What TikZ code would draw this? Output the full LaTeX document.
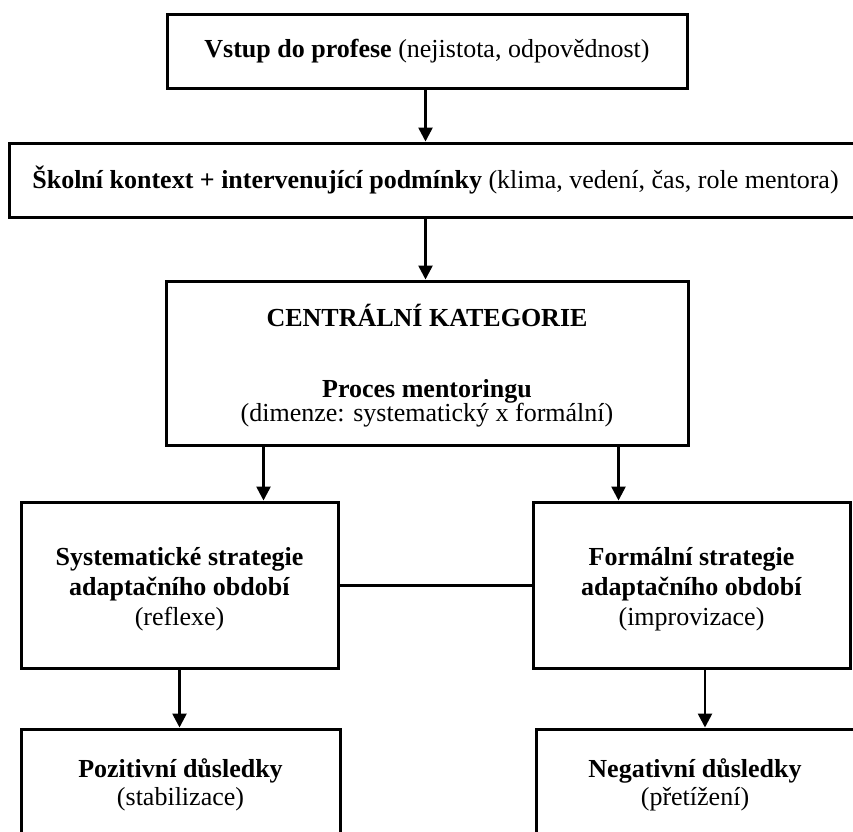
\documentclass[tikz,border=0pt]{standalone}
\usepackage{fontspec}
\setmainfont{Liberation Serif}
\usetikzlibrary{arrows.meta}
\begin{document}
\begin{tikzpicture}[x=1pt,y=-1pt,
  box/.style={draw, line width=3pt, align=center, inner sep=0pt,
    font=\fontsize{26}{29.5}\selectfont},
  arr/.style={line width=2.6pt, -{Triangle[length=14pt,width=14pt]}},
  link/.style={line width=3pt}]
\useasboundingbox (0,0) rectangle (853,831);
\node[box, minimum width=520pt, minimum height=74pt] (entry) at (427,51)
  {\textbf{Vstup do profese} (nejistota, odpovědnost)};
\node[box, minimum width=853pt, minimum height=74pt] (context) at (435.5,180)
  {\textbf{Školní kontext + intervenující podmínky} (klima, vedení, čas, role mentora)};
\node[box, minimum width=522pt, minimum height=164pt] (central) at (427,363)
  {\rule{0pt}{27pt}\textbf{CENTRÁLNÍ KATEGORIE}\\[42pt]\textbf{Proces mentoringu}\\[-6pt](dimenze: systematický x formální)};
\node[box, minimum width=317pt, minimum height=166pt] (lmid) at (179.5,585)
  {\rule{0pt}{27pt}\textbf{Systematické strategie}\\[0.5pt]\textbf{adaptačního období}\\[0.5pt](reflexe)};
\node[box, minimum width=317pt, minimum height=166pt] (rmid) at (691.5,585)
  {\rule{0pt}{27pt}\textbf{Formální strategie}\\[0.5pt]\textbf{adaptačního období}\\[0.5pt](improvizace)};
\node[box, minimum width=319pt, minimum height=112pt] (lbot) at (180.5,785)
  {\textbf{Pozitivní důsledky}\\[-1.5pt](stabilizace)};
\node[box, minimum width=318pt, minimum height=112pt] (rbot) at (695,785)
  {\textbf{Negativní důsledky}\\[-1.5pt](přetížení)};
\draw[arr] ([xshift=260pt]entry.south west) -- ([xshift=260pt]entry.south west |- context.north);
\draw[arr] ([xshift=260pt]entry.south west |- context.south) -- ([xshift=260pt]entry.south west |- central.north);
\draw[arr] ([xshift=99pt]central.south west) -- ([xshift=99pt]central.south west |- lmid.north);
\draw[arr] ([xshift=-71pt]central.south east) -- ([xshift=-71pt]central.south east |- rmid.north);
\draw[arr] (lmid.south) -- (lmid.south |- lbot.north);
\draw[arr] ([xshift=13.5pt]rmid.south) -- ([xshift=13.5pt]rmid.south |- rbot.north);
\draw[link] (lmid) -- (rmid);
\end{tikzpicture}
\end{document}
